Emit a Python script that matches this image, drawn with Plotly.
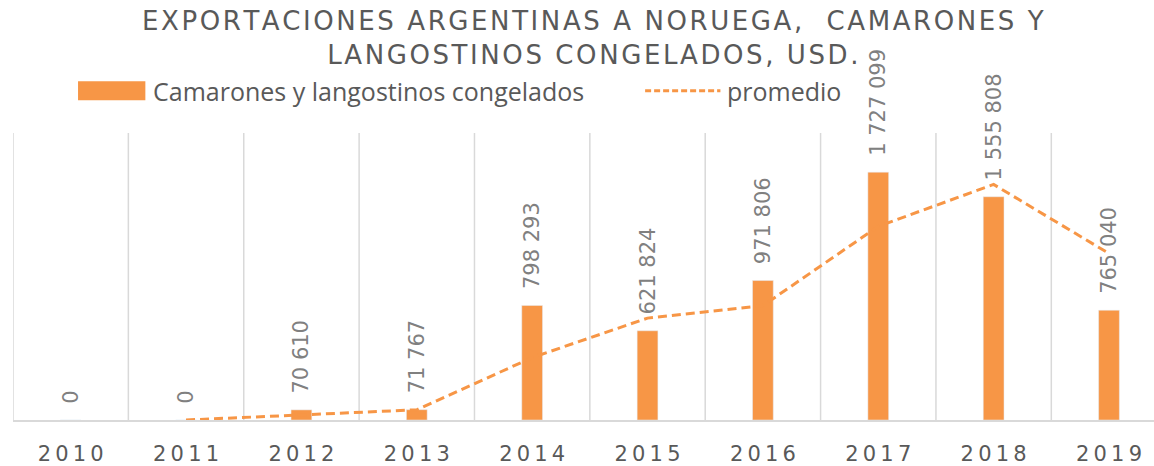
import plotly.graph_objects as go

# datos
years = ["2010", "2011", "2012", "2013", "2014", "2015", "2016", "2017", "2018", "2019"]
exports = [0, 0, 70610, 71767, 798293, 621824, 971806, 1727099, 1555808, 765040]
# promedio móvil de 2 periodos
promedio = [None, 0, 35305, 71188, 435030, 710058, 796815, 1349452, 1641453, 1160424]
labels = ["0", "0", "70 610", "71 767", "798 293", "621 824", "971 806", "1 727 099", "1 555 808", "765 040"]

ORANGE = "#F79646"
GRAY = "#595959"

def spaced(s, sep="\u200a"):
    return sep.join(s)

fig = go.Figure()

fig.add_trace(go.Bar(
    x=years, y=exports,
    marker_color=ORANGE,
    width=0.18,
    text=["\u00a0\u00a0" + t for t in labels],
    textposition="outside",
    textangle=-90,
    constraintext="none",
    textfont=dict(family="DejaVu Sans", size=21, color="#808080"),
    cliponaxis=False,
    showlegend=False,
))

fig.add_trace(go.Scatter(
    x=years, y=promedio,
    mode="lines",
    line=dict(color=ORANGE, width=3, dash="9px,5px"),
    showlegend=False,
))

# líneas verticales entre categorías
for i in range(11):
    fig.add_shape(type="line", xref="x", yref="paper", x0=i - 0.5, x1=i - 0.5, y0=0, y1=1,
                  line=dict(color="#D9D9D9", width=1.5), layer="below")

# título
fig.add_annotation(xref="paper", yref="paper", x=0.508, y=1.448, xanchor="center", yanchor="top",
                   text=spaced("EXPORTACIONES ARGENTINAS A NORUEGA,  CAMARONES Y") + "<br>" + spaced("LANGOSTINOS CONGELADOS, USD."),
                   showarrow=False, align="center",
                   font=dict(family="DejaVu Sans", size=26, color=GRAY))

# leyenda manual
fig.add_shape(type="rect", xref="paper", yref="paper", x0=0.057, x1=0.116, y0=1.114, y1=1.180,
              fillcolor=ORANGE, line_width=0)
fig.add_annotation(xref="paper", yref="paper", x=0.121, y=1.147, xanchor="left", yanchor="middle",
                   text="Camarones y langostinos congelados", showarrow=False,
                   font=dict(family="Open Sans", size=25, color=GRAY))
fig.add_shape(type="line", xref="paper", yref="paper", x0=0.554, x1=0.620, y0=1.147, y1=1.147,
              line=dict(color=ORANGE, width=3, dash="6px,3px"))
fig.add_annotation(xref="paper", yref="paper", x=0.624, y=1.147, xanchor="left", yanchor="middle",
                   text="promedio", showarrow=False,
                   font=dict(family="Open Sans", size=25, color=GRAY))

fig.update_layout(
    width=1154, height=466,
    margin=dict(l=13, r=0, t=133, b=46),
    paper_bgcolor="white",
    plot_bgcolor="white",
    xaxis=dict(
        range=[-0.5, 9.39],
        tickmode="array", tickvals=years, ticktext=[spaced(y, "\u2009") for y in years],
        tickfont=dict(family="DejaVu Sans", size=21, color=GRAY),
        showgrid=False, showline=True, linecolor="#D9D9D9", linewidth=1.5,
        ticks="", ticklabelstandoff=14,
    ),
    yaxis=dict(range=[0, 2000000], visible=False, showgrid=False),
    bargap=0.8,
)

fig.write_html("out.html", config={"displayModeBar": False},
               post_script="document.body.style.margin='0';")
